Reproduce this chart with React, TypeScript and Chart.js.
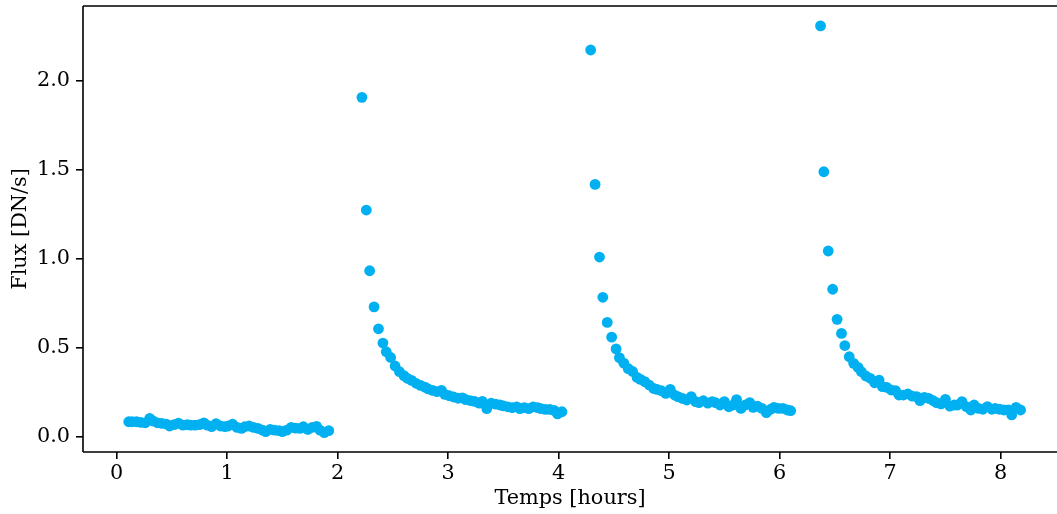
import { useEffect, useRef } from "react";
import { Chart, registerables } from "chart.js";

Chart.register(...registerables);

// Segment 1 (before first exposure)
const seg1Time = [0.11, 0.14, 0.18, 0.22, 0.26, 0.30, 0.33, 0.37, 0.41, 0.45, 0.48, 0.52, 0.56, 0.60, 0.64, 0.67, 0.71, 0.75, 0.79, 0.82, 0.86, 0.90, 0.94, 0.98, 1.01, 1.05, 1.09, 1.13, 1.16, 1.20, 1.24, 1.28, 1.32, 1.35, 1.39, 1.43, 1.47, 1.50, 1.54, 1.58, 1.62, 1.66, 1.69, 1.73, 1.77, 1.81, 1.84, 1.88, 1.92];
const seg1Flux = [0.086, 0.086, 0.086, 0.082, 0.08, 0.105, 0.09, 0.08, 0.077, 0.073, 0.062, 0.07, 0.078, 0.067, 0.07, 0.067, 0.067, 0.07, 0.08, 0.067, 0.058, 0.075, 0.062, 0.058, 0.062, 0.072, 0.054, 0.049, 0.058, 0.062, 0.054, 0.049, 0.039, 0.03, 0.043, 0.039, 0.036, 0.03, 0.039, 0.054, 0.05, 0.049, 0.058, 0.043, 0.054, 0.06, 0.039, 0.025, 0.036];

// Segment 2
const seg2Time = [2.22, 2.26, 2.29, 2.33, 2.37, 2.41, 2.44, 2.48, 2.52, 2.56, 2.60, 2.63, 2.67, 2.71, 2.75, 2.79, 2.82, 2.86, 2.90, 2.94, 2.97, 3.01, 3.05, 3.09, 3.13, 3.16, 3.20, 3.24, 3.28, 3.31, 3.35, 3.39, 3.43, 3.47, 3.50, 3.54, 3.58, 3.62, 3.65, 3.69, 3.73, 3.77, 3.81, 3.84, 3.88, 3.92, 3.96, 3.99, 4.03];
const seg2Flux = [1.908, 1.275, 0.934, 0.731, 0.608, 0.528, 0.479, 0.447, 0.399, 0.367, 0.345, 0.33, 0.318, 0.302, 0.29, 0.28, 0.27, 0.262, 0.255, 0.262, 0.24, 0.232, 0.225, 0.218, 0.22, 0.21, 0.205, 0.2, 0.19, 0.2, 0.16, 0.19, 0.185, 0.18, 0.175, 0.17, 0.165, 0.17, 0.16, 0.165, 0.16, 0.17, 0.165, 0.16, 0.155, 0.155, 0.15, 0.13, 0.142];

// Segment 3
const seg3Time = [4.29, 4.33, 4.37, 4.40, 4.44, 4.48, 4.52, 4.55, 4.59, 4.63, 4.67, 4.71, 4.74, 4.78, 4.82, 4.86, 4.89, 4.93, 4.97, 5.01, 5.05, 5.08, 5.12, 5.16, 5.20, 5.24, 5.27, 5.31, 5.35, 5.39, 5.42, 5.46, 5.50, 5.54, 5.58, 5.61, 5.65, 5.69, 5.73, 5.76, 5.80, 5.84, 5.88, 5.92, 5.95, 5.99, 6.03, 6.07, 6.10];
const seg3Flux = [2.174, 1.419, 1.011, 0.785, 0.644, 0.561, 0.495, 0.446, 0.415, 0.384, 0.368, 0.335, 0.324, 0.311, 0.292, 0.273, 0.268, 0.26, 0.245, 0.268, 0.236, 0.227, 0.217, 0.208, 0.227, 0.199, 0.193, 0.204, 0.19, 0.199, 0.193, 0.18, 0.199, 0.17, 0.18, 0.21, 0.161, 0.18, 0.193, 0.167, 0.174, 0.161, 0.137, 0.156, 0.167, 0.161, 0.161, 0.152, 0.148];

// Segment 4
const seg4Time = [6.37, 6.40, 6.44, 6.48, 6.52, 6.56, 6.59, 6.63, 6.67, 6.71, 6.74, 6.78, 6.82, 6.86, 6.90, 6.93, 6.97, 7.01, 7.05, 7.08, 7.12, 7.16, 7.20, 7.24, 7.27, 7.31, 7.35, 7.39, 7.42, 7.46, 7.50, 7.54, 7.58, 7.61, 7.65, 7.69, 7.73, 7.76, 7.80, 7.84, 7.88, 7.92, 7.95, 7.99, 8.03, 8.07, 8.10, 8.14, 8.18];
const seg4Flux = [2.309, 1.49, 1.045, 0.83, 0.661, 0.582, 0.514, 0.451, 0.414, 0.391, 0.367, 0.343, 0.33, 0.305, 0.32, 0.283, 0.279, 0.264, 0.26, 0.236, 0.236, 0.242, 0.23, 0.227, 0.204, 0.223, 0.217, 0.204, 0.193, 0.186, 0.212, 0.174, 0.18, 0.18, 0.199, 0.171, 0.152, 0.18, 0.161, 0.156, 0.171, 0.156, 0.161, 0.156, 0.152, 0.152, 0.124, 0.167, 0.152];

const xTickValues = [0, 1, 2, 3, 4, 5, 6, 7, 8];
const xTickLabels = ["0", "1", "2", "3", "4", "5", "6", "7", "8"];
const yTickValues = [0, 0.5, 1.0, 1.5, 2.0];
const yTickLabels = ["0.0", "0.5", "1.0", "1.5", "2.0"];
const xTitle = "Temps [hours]";
const yTitle = "Flux [DN/s]";

const POINT_COLOR = "#00b0f0";
const FONT = "'DejaVu Serif', serif";
const FONT_SIZE = 20.8;

const toPoints = (t: number[], f: number[]) => t.map((x, i) => ({ x, y: f[i] }));

const spinesPlugin = {
  id: "spines",
  afterDraw(chart: any) {
    const { ctx, chartArea: a } = chart;
    ctx.save();
    ctx.strokeStyle = "#000";
    ctx.lineWidth = 1.6;
    ctx.beginPath();
    ctx.moveTo(a.left, a.top);
    ctx.lineTo(a.right + 2, a.top);
    ctx.moveTo(a.left, a.top);
    ctx.lineTo(a.left, a.bottom);
    ctx.moveTo(a.left, a.bottom);
    ctx.lineTo(a.right + 2, a.bottom);
    ctx.stroke();
    ctx.restore();
  },
};

export default function App() {
  const canvasRef = useRef<HTMLCanvasElement | null>(null);

  useEffect(() => {
    const canvas = canvasRef.current;
    if (!canvas) return;
    const segments = [
      toPoints(seg1Time, seg1Flux),
      toPoints(seg2Time, seg2Flux),
      toPoints(seg3Time, seg3Flux),
      toPoints(seg4Time, seg4Flux),
    ];
    const chart = new Chart(canvas, {
      type: "scatter",
      data: {
        datasets: segments.map((pts, i) => ({
          label: "segment " + (i + 1),
          data: pts,
          backgroundColor: POINT_COLOR,
          borderColor: POINT_COLOR,
          borderWidth: 0,
          pointRadius: 5.4,
          pointHoverRadius: 5.4,
        })),
      },
      options: {
        animation: false,
        responsive: false,
        devicePixelRatio: 1,
        layout: { autoPadding: false, padding: { top: 6, left: 0, right: 0, bottom: 0 } },
        plugins: {
          legend: { display: false },
          tooltip: { enabled: false },
        },
        scales: {
          x: {
            type: "linear",
            min: -0.304,
            max: 8.51,
            afterBuildTicks: (scale: any) => {
              scale.ticks = xTickValues.map((v) => ({ value: v }));
            },
            afterFit: (scale: any) => {
              scale.height = 62;
              scale.paddingLeft = 0;
              scale.paddingRight = 0;
              scale.paddingTop = 0;
              scale.paddingBottom = 0;
            },
            ticks: {
              autoSkip: false,
              maxRotation: 0,
              padding: 2,
              color: "#000",
              font: { family: FONT, size: FONT_SIZE },
              callback: (v: any) => {
                const idx = xTickValues.indexOf(Number(v));
                return idx >= 0 ? xTickLabels[idx] : "";
              },
            },
            grid: {
              display: true,
              drawOnChartArea: false,
              drawTicks: true,
              tickLength: 7,
              color: "#000",
              lineWidth: 1.6,
            },
            border: { display: false },
            title: {
              display: true,
              text: xTitle,
              color: "#000",
              font: { family: FONT, size: FONT_SIZE },
              padding: { top: 0, bottom: 3 },
            },
          },
          y: {
            type: "linear",
            min: -0.084,
            max: 2.421,
            afterBuildTicks: (scale: any) => {
              scale.ticks = yTickValues.map((v) => ({ value: v }));
            },
            afterFit: (scale: any) => {
              scale.width = 83;
              scale.paddingLeft = 0;
              scale.paddingRight = 0;
              scale.paddingTop = 0;
              scale.paddingBottom = 0;
            },
            ticks: {
              autoSkip: false,
              padding: 6,
              color: "#000",
              font: { family: FONT, size: FONT_SIZE },
              callback: (v: any) => {
                const idx = yTickValues.findIndex((t) => Math.abs(t - Number(v)) < 1e-9);
                return idx >= 0 ? yTickLabels[idx] : "";
              },
            },
            grid: {
              display: true,
              drawOnChartArea: false,
              drawTicks: true,
              tickLength: 7,
              color: "#000",
              lineWidth: 1.6,
            },
            border: { display: false },
            title: {
              display: true,
              text: yTitle,
              color: "#000",
              font: { family: FONT, size: FONT_SIZE },
              padding: { top: 8, bottom: 0 },
            },
          },
        },
      },
      plugins: [spinesPlugin],
    });
    return () => chart.destroy();
  }, []);

  return (
    <div style={{ position: "absolute", left: 0, top: 0, width: 1057, height: 514, background: "#fff" }}>
      <canvas ref={canvasRef} width={1057} height={514} style={{ display: "block" }} />
    </div>
  );
}
